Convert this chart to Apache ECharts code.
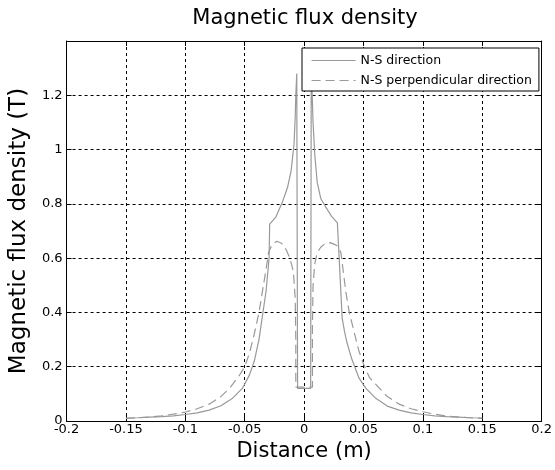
<!DOCTYPE html>
<html>
<head>
<meta charset="utf-8">
<title>Magnetic flux density</title>
<script src="https://cdn.jsdelivr.net/npm/echarts@6/dist/echarts.min.js"></script>
<style>
  html, body { margin: 0; padding: 0; background: #fff; }
  #chart { width: 555px; height: 470px; }
</style>
</head>
<body>
<div id="chart"></div>
<script>
// values, [distance (m), flux density (T)]
const nsDirection = [
  [-0.15, 0.011], [-0.14, 0.012], [-0.13, 0.014], [-0.12, 0.016], [-0.11, 0.019],
  [-0.1, 0.024], [-0.09, 0.03], [-0.08, 0.04], [-0.07, 0.056], [-0.06, 0.085],
  [-0.052, 0.12], [-0.046, 0.17], [-0.042, 0.22], [-0.038, 0.3], [-0.035, 0.39],
  [-0.032, 0.48], [-0.0295, 0.6], [-0.029, 0.725], [-0.024, 0.75], [-0.018, 0.81],
  [-0.014, 0.86], [-0.011, 0.92], [-0.0085, 1.02], [-0.0075, 1.12], [-0.007, 1.2],
  [-0.0062, 1.28], [-0.0055, 0.12], [0.0055, 0.12], [0.006, 1.28], [0.0068, 1.2],
  [0.0075, 1.1], [0.009, 0.98], [0.011, 0.88], [0.014, 0.82], [0.018, 0.79],
  [0.023, 0.755], [0.028, 0.73], [0.0295, 0.6], [0.031, 0.47], [0.032, 0.38],
  [0.034, 0.33], [0.036, 0.29], [0.04, 0.23], [0.046, 0.16], [0.052, 0.12],
  [0.06, 0.085], [0.07, 0.055], [0.08, 0.04], [0.09, 0.03], [0.1, 0.024],
  [0.11, 0.019], [0.12, 0.016], [0.13, 0.014], [0.14, 0.012], [0.15, 0.011]
];

const nsPerpendicular = [
  [-0.15, 0.01], [-0.14, 0.012], [-0.13, 0.015], [-0.12, 0.019], [-0.11, 0.025],
  [-0.1, 0.033], [-0.09, 0.045], [-0.08, 0.062], [-0.07, 0.09], [-0.062, 0.125],
  [-0.055, 0.165], [-0.05, 0.2], [-0.046, 0.25], [-0.042, 0.32], [-0.038, 0.4],
  [-0.035, 0.48], [-0.032, 0.56], [-0.03, 0.62], [-0.027, 0.65], [-0.023, 0.662],
  [-0.019, 0.655], [-0.015, 0.63], [-0.012, 0.6], [-0.009, 0.55], [-0.0075, 0.45],
  [-0.007, 0.3], [-0.007, 0.125], [0.007, 0.125], [0.007, 0.35], [0.0075, 0.5],
  [0.009, 0.58], [0.011, 0.62], [0.014, 0.64], [0.018, 0.655], [0.022, 0.657],
  [0.026, 0.65], [0.028, 0.645], [0.031, 0.62], [0.033, 0.55], [0.035, 0.48],
  [0.038, 0.4], [0.042, 0.33], [0.046, 0.26], [0.05, 0.21], [0.055, 0.16],
  [0.0625, 0.125], [0.07, 0.09], [0.08, 0.062], [0.09, 0.045], [0.1, 0.034],
  [0.11, 0.025], [0.12, 0.018], [0.13, 0.014], [0.14, 0.012], [0.15, 0.01]
];

const seriesNames = ["N-S direction", "N-S perpendicular direction"];

const font = "DejaVu Sans";

let myChart = echarts.init(document.getElementById("chart"));

const gridLine = { show: true, lineStyle: { color: "#000", type: [3, 3], width: 1 } };
const boxLine = { show: true, onZero: false, lineStyle: { color: "#000", width: 1 } };
const boxTick = { show: true, inside: true, length: 5, lineStyle: { color: "#000" } };

const option = {
  backgroundColor: "#fff",
  animation: false,
  title: {
    text: "Magnetic flux density",
    left: 305,
    top: 8,
    textAlign: "center",
    padding: 0,
    textStyle: { fontFamily: font, fontSize: 21, fontWeight: "normal", color: "#000" }
  },
  legend: {
    data: seriesNames,
    orient: "vertical",
    left: 302,
    top: 48,
    padding: [6, 7, 4, 9],
    itemGap: 7,
    itemWidth: 44,
    itemHeight: 14,
    itemStyle: { opacity: 0 }, // line sample only, no marker
    lineStyle: { width: 1.2 },
    backgroundColor: "#fff",
    borderColor: "#000",
    borderWidth: 1,
    borderRadius: 0,
    textStyle: { fontFamily: font, fontSize: 12.5, color: "#000" }
  },
  grid: { left: 65, right: 10, top: 41, bottom: 49 },
  xAxis: [
    {
      type: "value",
      min: -0.2,
      max: 0.2,
      interval: 0.05,
      position: "bottom",
      name: "Distance (m)",
      nameLocation: "middle",
      nameGap: 18,
      nameTextStyle: { fontFamily: font, fontSize: 21, color: "#000" },
      axisLine: boxLine,
      axisTick: boxTick,
      axisLabel: { fontFamily: font, fontSize: 13, color: "#000", margin: 2 },
      splitLine: gridLine
    },
    {
      type: "value",
      min: -0.2,
      max: 0.2,
      interval: 0.05,
      position: "top",
      axisLine: boxLine,
      axisTick: boxTick,
      axisLabel: { show: false },
      splitLine: { show: false }
    }
  ],
  yAxis: [
    {
      type: "value",
      min: 0,
      max: 1.4,
      interval: 0.2,
      position: "left",
      name: "Magnetic flux density (T)",
      nameLocation: "middle",
      nameGap: 31,
      nameTextStyle: { fontFamily: font, fontSize: 23, color: "#000" },
      axisLine: boxLine,
      axisTick: boxTick,
      axisLabel: {
        fontFamily: font,
        fontSize: 13,
        color: "#000",
        margin: 4,
        formatter: function (v) {
          return v > 1.3 ? "" : String(+v.toFixed(2));
        }
      },
      splitLine: gridLine
    },
    {
      type: "value",
      min: 0,
      max: 1.4,
      interval: 0.2,
      position: "right",
      axisLine: boxLine,
      axisTick: boxTick,
      axisLabel: { show: false },
      splitLine: { show: false }
    }
  ],
  series: [
    {
      name: seriesNames[0],
      type: "line",
      data: nsDirection,
      symbol: "none",
      lineStyle: { color: "#999", width: 1.2, type: "solid" },
      itemStyle: { color: "#999" }
    },
    {
      name: seriesNames[1],
      type: "line",
      data: nsPerpendicular,
      symbol: "none",
      lineStyle: { color: "#999", width: 1.2, type: [9, 5] },
      itemStyle: { color: "#999" }
    }
  ]
};

myChart.setOption(option);
</script>
</body>
</html>
